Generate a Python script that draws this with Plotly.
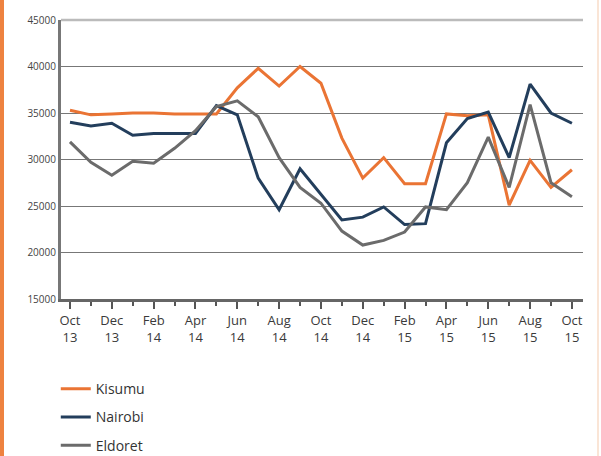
import plotly.graph_objects as go

months = ["Oct 13", "Nov 13", "Dec 13", "Jan 14", "Feb 14", "Mar 14", "Apr 14", "May 14",
          "Jun 14", "Jul 14", "Aug 14", "Sep 14", "Oct 14", "Nov 14", "Dec 14", "Jan 15",
          "Feb 15", "Mar 15", "Apr 15", "May 15", "Jun 15", "Jul 15", "Aug 15", "Sep 15", "Oct 15"]

kisumu = [35300, 34800, 34900, 35000, 35000, 34900, 34900, 34900,
          37700, 39800, 37900, 40000, 38200, 32300, 28000, 30200,
          27400, 27400, 34900, 34700, 34800, 25100, 29900, 27000, 28900]
nairobi = [34000, 33600, 33900, 32600, 32800, 32800, 32800, 35800,
           34800, 28000, 24600, 29000, 26200, 23500, 23800, 24900,
           23000, 23100, 31800, 34400, 35100, 30200, 38100, 35000, 33900]
eldoret = [31900, 29700, 28300, 29800, 29600, 31200, 33100, 35700,
           36300, 34600, 30200, 27000, 25300, 22300, 20800, 21300,
           22200, 24900, 24600, 27500, 32400, 27000, 35900, 27500, 26000]

series = [("Kisumu", kisumu, "#EA7434"), ("Nairobi", nairobi, "#233E5C"), ("Eldoret", eldoret, "#6B6B6B")]

x = list(range(len(months)))
major = x[::2]
labels = [m.replace(" ", "<br>") for m in months[::2]]

fig = go.Figure()
for name, vals, col in series:
    fig.add_trace(go.Scatter(x=x, y=vals, name=name, mode="lines", legendgroup=name,
                             line=dict(color=col, width=3)))

# plot area is 522 x 279 px
pw, ph = 522, 279
fig.update_layout(
    width=601, height=456,
    margin=dict(l=61, r=18, t=20, b=157, autoexpand=False),
    paper_bgcolor="white", plot_bgcolor="white",
    font=dict(family="Open Sans, sans-serif", color="#3a3a3a"),
    showlegend=True,
    legend=dict(x=-0.01, y=-0.266, xanchor="left", yanchor="top", traceorder="grouped",
                tracegroupgap=7, font=dict(size=14, family="Open Sans, sans-serif", color="#333"),
                bgcolor="rgba(0,0,0,0)"),
    shapes=[
        dict(type="rect", xref="paper", yref="paper", x0=-61/pw, x1=-57/pw, y0=-157/ph, y1=20/ph + 1,
             fillcolor="#EE8240", line=dict(width=0), layer="above"),
        dict(type="line", xref="paper", yref="paper", x0=1 + 15/pw, x1=1 + 15/pw, y0=-157/ph, y1=20/ph + 1,
             line=dict(color="#F8DCC8", width=1.5)),
        dict(type="line", xref="paper", yref="paper", x0=0, x1=1, y0=1, y1=1,
             line=dict(color="#BBBBBB", width=2.5)),
    ],
)

fig.update_xaxes(
    range=[-0.43, 24.53], tickmode="array", tickvals=major, ticktext=labels,
    ticks="outside", ticklen=7, tickwidth=2, tickcolor="#555",
    showline=True, linecolor="#666", linewidth=3, showgrid=False, zeroline=False,
    tickfont=dict(size=13, family="Open Sans, sans-serif", color="#3a3a3a"),
    minor=dict(tickvals=x[1::2], ticks="outside", ticklen=4, tickwidth=2, tickcolor="#555", showgrid=False),
)
fig.update_yaxes(
    range=[15000, 45000], tickmode="array", tickvals=list(range(15000, 45001, 5000)), tickformat="d",
    showline=True, linecolor="#777", linewidth=3, ticks="",
    showgrid=True, gridcolor="#777", gridwidth=1.2, zeroline=False,
    tickfont=dict(size=10, family="Open Sans, sans-serif", color="#444"),
)

# drop the page's default body margin so the figure sits at the window corner
fig.write_html("out.html", config={"displayModeBar": False},
               post_script="document.body.style.margin='0';")
